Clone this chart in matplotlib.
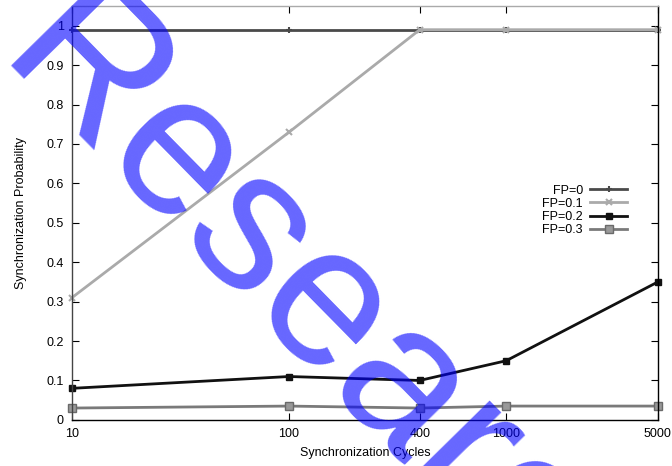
import matplotlib
matplotlib.use("Agg")
import matplotlib.pyplot as plt

# synchronization probability vs cycles
cycles = [10, 100, 400, 1000, 5000]
fp_labels = ["FP=0", "FP=0.1", "FP=0.2", "FP=0.3"]
fp0 = [0.99, 0.99, 0.99, 0.99, 0.99]
fp01 = [0.31, 0.73, 0.99, 0.99, 0.99]
fp02 = [0.08, 0.11, 0.10, 0.15, 0.35]
fp03 = [0.03, 0.035, 0.03, 0.035, 0.035]
xticks = [10, 100, 400, 1000, 5000]
yticks = [0, 0.1, 0.2, 0.3, 0.4, 0.5, 0.6, 0.7, 0.8, 0.9, 1]

plt.rcParams["font.family"] = ["Liberation Sans", "DejaVu Sans"]

fig = plt.figure(figsize=(6.72, 4.66), dpi=100)
ax = fig.add_axes([0.107, 0.099, 0.872, 0.888])

styles = [
    dict(color="#4a4a4a", marker="+", ms=5, mew=1.5),
    dict(color="#aaaaaa", marker="x", ms=5, mew=1.5),
    dict(color="#111111", marker="s", ms=5),
    dict(color="#7a7a7a", marker="s", ms=6, mfc="#999999", mec="#6a6a6a"),
]
for vals, lab, st in zip([fp0, fp01, fp02, fp03], fp_labels, styles):
    ax.plot(cycles, vals, lw=2, label=lab, clip_on=False, **st)

ax.set_xscale("log")
ax.set_xlim(10, 5000)
ax.set_ylim(0, 1.05)
ax.set_xticks(xticks)
ax.set_xticklabels([str(t) for t in xticks])
ax.minorticks_off()
ax.set_yticks(yticks)
ax.set_yticklabels(["0", "0.1", "0.2", "0.3", "0.4", "0.5", "0.6", "0.7", "0.8", "0.9", "1"])
ax.tick_params(direction="in", top=True, right=True, labelsize=9, length=5, pad=6)
ax.set_xlabel("Synchronization Cycles", fontsize=9, labelpad=5)
ax.set_ylabel("Synchronization Probability", fontsize=9, labelpad=14)
for s in ax.spines.values():
    s.set_linewidth(1)
ax.spines["top"].set_color("#aaaaaa")
ax.spines["left"].set_color("#444444")

leg = ax.legend(loc="center right", bbox_to_anchor=(0.966, 0.506), frameon=False,
                fontsize=9, markerfirst=False, handlelength=2.9, labelspacing=0.1,
                handletextpad=0.6)
for t in leg.get_texts():
    t.set_ha("right")

# watermark
fig.text(-0.009, 0.861, "Research", fontsize=144, color="blue", alpha=0.6,
         rotation=-45.5, rotation_mode="anchor", ha="left", va="baseline")

fig.savefig("out.png", dpi=100)
